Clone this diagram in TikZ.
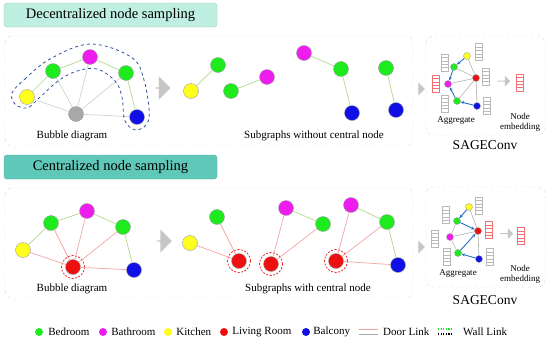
\documentclass[tikz,border=0pt]{standalone}
\usepackage{fontspec}
\setmainfont{Liberation Serif}
\usetikzlibrary{positioning,shapes.arrows,arrows.meta}

\definecolor{bedroom}{HTML}{1EEB1E}
\definecolor{bathroom}{HTML}{EE1CEE}
\definecolor{kitchen}{HTML}{FFFF1E}
\definecolor{living}{HTML}{EE1010}
\definecolor{balcony}{HTML}{1010E6}
\definecolor{hubgray}{HTML}{A8A8A8}
\definecolor{doorpink}{HTML}{F4A3A3}
\definecolor{wallgreen}{HTML}{B0DA8E}
\definecolor{msgblue}{HTML}{2470C2}
\definecolor{loopblue}{HTML}{33509E}
\definecolor{mintfill}{HTML}{BFEFE1}
\definecolor{tealfill}{HTML}{5FC8B8}

\begin{document}
\begin{tikzpicture}[x=1pt, y=-1pt, font=\rmfamily,
        room/.style={circle, draw=gray!75, minimum size=15pt, inner sep=0pt},
        small room/.style={circle, draw=gray!75, minimum size=7pt, inner sep=0pt},
        hub ring/.style={circle, draw=living, dash pattern=on 2pt off 1.5pt, line width=0.7pt, minimum size=23pt, inner sep=0pt},
        door link/.style={draw=doorpink, line width=0.7pt},
        wall link/.style={draw=wallgreen, line width=0.7pt},
        gray link/.style={draw=gray!35, line width=0.7pt},
        sage link/.style={draw=gray!60, line width=0.6pt},
        message/.style={draw=msgblue, line width=0.9pt, -{Stealth[length=3.5pt, width=3pt]}},
        panel box/.style={draw=gray!30, dashed, rounded corners=7pt},
        feature/.style={draw=#1, minimum width=7pt, minimum height=17pt, inner sep=0pt, path picture={
            \foreach \k in {1,...,4}
                \draw[#1] ([yshift=\k*3.4pt]path picture bounding box.south west) -- ([yshift=\k*3.4pt]path picture bounding box.south east);}},
        feature/.default=gray!55,
        flow arrow/.style={single arrow, fill=gray!45, inner sep=0pt, single arrow head extend=4pt},
        title box/.style={rectangle, rounded corners=3pt, minimum width=213pt, minimum height=24pt, font=\rmfamily\fontsize{14.5}{17}\selectfont},
        caption/.style={font=\rmfamily\fontsize{11}{13}\selectfont},
        small text/.style={font=\rmfamily\fontsize{9}{10}\selectfont, align=center},
        legend dot/.style={circle, minimum size=8pt, inner sep=0pt},
        legend text/.style={font=\rmfamily\fontsize{11}{13}\selectfont, inner sep=0pt}
    ]
    \useasboundingbox (0,0) rectangle (550,341);

    % decentralized sampling
    \node[title box, draw=mintfill!85!black, fill=mintfill] (title1) at (110.5,15) {Decentralized node sampling};
    \draw[panel box] (5,36) rectangle (413,146);
    \draw[panel box] (426,36) rectangle (545,135);

    \node[room, fill=kitchen] (a1) at (27,97) {};
    \node[room, fill=bedroom] (a2) at (53,71) {};
    \node[room, fill=bathroom] (a3) at (90,57) {};
    \node[room, fill=bedroom] (a4) at (126,73) {};
    \node[room, fill=balcony] (a5) at (137,117) {};
    \node[room, fill=hubgray] (a0) at (76,114) {};
    \draw[wall link] (a1) -- (a2) -- (a3) -- (a4) -- (a5);
    \draw[gray link] (a0) -- (a1) (a0) -- (a2) (a0) -- (a3) (a0) -- (a4) (a0) -- (a5);
    \draw[loopblue, line width=0.8pt, dashed] plot[smooth cycle, tension=0.6] coordinates {
        (12,93) (25,79) (50,59) (90,44) (131,57) (144,80) (149,118) (137,130) (125,121)
        (122,97) (115,81) (97,69) (77,71) (58,81) (38,99) (27,108) (15,104)};
    \node[caption] (cap1) at (72,136) {Bubble diagram};

    \node[flow arrow, minimum height=15pt, minimum width=23pt] (arr1) at (162.5,88) {};

    \node[room, fill=kitchen] (b1) at (191,91) {};
    \node[room, fill=bedroom] (b2) at (218,65) {};
    \node[room, fill=bedroom] (b3) at (231,91) {};
    \node[room, fill=bathroom] (b4) at (267,77) {};
    \node[room, fill=bathroom] (b5) at (304,53) {};
    \node[room, fill=bedroom] (b6) at (341,69) {};
    \node[room, fill=balcony] (b7) at (352,113) {};
    \node[room, fill=bedroom] (b8) at (386,68) {};
    \node[room, fill=balcony] (b9) at (396,110) {};
    \draw[wall link] (b1) -- (b2) (b3) -- (b4) (b5) -- (b6) -- (b7) (b8) -- (b9);
    \node[caption] (cap2) at (314,136) {Subgraphs without central node};

    \node[flow arrow, minimum height=7pt, minimum width=13pt, single arrow head extend=2pt] (arr2) at (421,89) {};

    \node[small room, fill=kitchen] (c1) at (467,56) {};
    \node[small room, fill=bedroom] (c2) at (454,67) {};
    \node[small room, fill=living] (c0) at (476,78) {};
    \node[small room, fill=bathroom] (c3) at (448,84) {};
    \node[small room, fill=bedroom] (c4) at (457,101) {};
    \node[small room, fill=balcony] (c5) at (477,106) {};
    \draw[sage link] (c0) -- (c1) (c0) -- (c2) (c0) -- (c3) (c0) -- (c4) (c0) -- (c5);
    \draw[message] (c1) -- (c2);
    \draw[message] (c2) -- (c3);
    \draw[message] (c4) -- (c3);
    \draw[message] (c5) -- (c4);
    \node[feature] (v1) at (478.5,52) {};
    \node[feature] (v2) at (444.5,62.5) {};
    \node[feature] (v3) at (485.5,76.5) {};
    \node[feature=living!60] (v0) at (436,83.5) {};
    \node[feature] (v4) at (445,103.5) {};
    \node[feature] (v5) at (487,106) {};
    \node[small text] (agg1) at (456,120) {Aggregate};
    \node[flow arrow, minimum height=13pt, minimum width=11pt, single arrow head extend=2pt] (arr3) at (503.5,81) {};
    \node[feature=living!60] (out1) at (520,82.5) {};
    \node[small text] (emb1) at (520,122) {Node\\embedding};
    \node[font=\rmfamily\fontsize{13.5}{16}\selectfont] (sage1) at (485,145) {SAGEConv};

    % centralized sampling
    \node[title box, draw=tealfill!85!black, fill=tealfill] (title2) at (110.5,167) {Centralized node sampling};
    \draw[panel box] (5,188) rectangle (413,298);
    \draw[panel box] (426,187) rectangle (545,287);

    \node[room, fill=kitchen] (d1) at (23,250) {};
    \node[room, fill=bedroom] (d2) at (51,223) {};
    \node[room, fill=bathroom] (d3) at (87,211) {};
    \node[room, fill=bedroom] (d4) at (123,227) {};
    \node[room, fill=balcony] (d5) at (134,270) {};
    \node[room, fill=living] (d0) at (73,267) {};
    \node[hub ring] (dr) at (d0) {};
    \draw[wall link] (d1) -- (d2) -- (d3) -- (d4) -- (d5);
    \draw[door link] (d0) -- (d1) (d0) -- (d2) (d0) -- (d3) (d0) -- (d4) (d0) -- (d5);
    \node[caption] (cap3) at (72,289) {Bubble diagram};

    \node[flow arrow, minimum height=15pt, minimum width=23pt] (arr4) at (164,241) {};

    \node[room, fill=bedroom] (e1) at (217,217) {};
    \node[room, fill=kitchen] (e2) at (190,243) {};
    \node[room, fill=living] (e0) at (239,261) {};
    \node[hub ring] (er) at (e0) {};
    \node[room, fill=living] (e3) at (271,264) {};
    \node[hub ring] (er2) at (e3) {};
    \node[room, fill=bathroom] (e4) at (286,208) {};
    \node[room, fill=bedroom] (e5) at (323,224) {};
    \node[room, fill=living] (e6) at (336,261) {};
    \node[hub ring] (er3) at (e6) {};
    \node[room, fill=bathroom] (e7) at (351,205) {};
    \node[room, fill=bedroom] (e8) at (387,222) {};
    \node[room, fill=balcony] (e9) at (398,265) {};
    \draw[door link] (e0) -- (e1) (e0) -- (e2) (e3) -- (e4) (e3) -- (e5)
        (e6) -- (e7) (e6) -- (e8) (e6) -- (e9);
    \draw[wall link] (e4) -- (e5) (e7) -- (e8) -- (e9);
    \node[caption] (cap4) at (308,289) {Subgraphs with central node};

    \node[flow arrow, minimum height=7pt, minimum width=13pt, single arrow head extend=2pt] (arr5) at (421,247) {};

    \node[small room, fill=kitchen] (f1) at (469,207) {};
    \node[small room, fill=bedroom] (f2) at (457,221) {};
    \node[small room, fill=living] (f0) at (478,231) {};
    \node[small room, fill=bathroom] (f3) at (450,237) {};
    \node[small room, fill=bedroom] (f4) at (458,253) {};
    \node[small room, fill=balcony] (f5) at (479,259) {};
    \draw[sage link] (f2) -- (f3) -- (f4) (f3) -- (f0) (f1) -- (f0) -- (f5);
    \draw[message] (f1) -- (f2);
    \draw[message] (f2) -- (f0);
    \draw[message] (f4) -- (f0);
    \draw[message] (f5) -- (f4);
    \node[feature] (w1) at (479,205.5) {};
    \node[feature] (w2) at (446,215) {};
    \node[feature] (w3) at (434.5,238.5) {};
    \node[feature=living!60] (w0) at (488.5,230) {};
    \node[feature] (w4) at (446.5,256.5) {};
    \node[feature] (w5) at (490,257) {};
    \node[small text] (agg2) at (458,273) {Aggregate};
    \node[flow arrow, minimum height=13pt, minimum width=11pt, single arrow head extend=2pt] (arr6) at (506.5,233.5) {};
    \node[feature=living!60] (out2) at (520.5,236) {};
    \node[small text] (emb2) at (520,274) {Node\\embedding};
    \node[font=\rmfamily\fontsize{13.5}{16}\selectfont] (sage2) at (485,300) {SAGEConv};

    % legend
    \node[legend dot, fill=bedroom] (l1) at (39,332) {};
    \node[legend text, right=5pt of l1] (t1) {Bedroom};
    \node[legend dot, fill=bathroom] (l2) at (103,332) {};
    \node[legend text, right=4pt of l2] (t2) {Bathroom};
    \node[legend dot, fill=kitchen] (l3) at (168,332) {};
    \node[legend text, right=4pt of l3] (t3) {Kitchen};
    \node[legend dot, fill=living] (l4) at (224,332) {};
    \node[legend text, right=4pt of l4] (t4) {Living Room};
    \node[legend dot, fill=balcony] (l5) at (306,332) {};
    \node[legend text, right=3pt of l5] (t5) {Balcony};
    \draw[door link, line width=0.9pt] (359,329) -- (378,329);
    \draw[gray!70, line width=0.9pt] (359,334) -- (378,334);
    \node[legend text, anchor=west] (t6) at (383,332) {Door Link};
    \draw[bedroom, line width=1.4pt, dash pattern=on 1.2pt off 1.4pt] (438,329) -- (453,329);
    \draw[black, line width=1.4pt, dash pattern=on 1.2pt off 1.4pt] (438,334) -- (453,334);
    \node[legend text, anchor=west] (t7) at (463,332) {Wall Link};
\end{tikzpicture}
\end{document}
